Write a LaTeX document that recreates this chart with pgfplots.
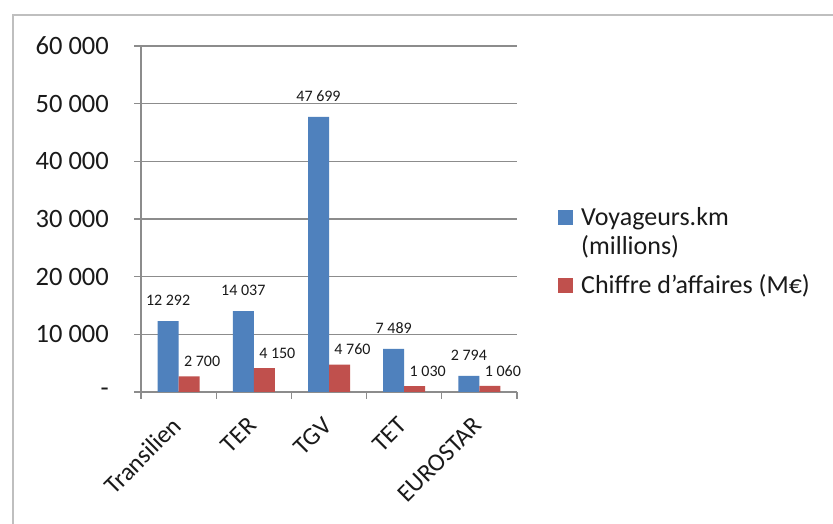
\documentclass[border=0pt]{standalone}
\usepackage{fontspec}
\setmainfont{Carlito}
\usepackage{pgfplots}
\pgfplotsset{compat=1.18}
\definecolor{vblue}{HTML}{4F81BD}
\definecolor{cred}{HTML}{C0504D}
\definecolor{gridc}{HTML}{8C8C8C}
\definecolor{framec}{HTML}{BFBFBF}
\definecolor{txt}{HTML}{1A1A1A}
\begin{document}
\begin{tikzpicture}
\useasboundingbox (0,0) rectangle (833pt,524pt);
\fill[white] (0,0) rectangle (833pt,524pt);
\draw[framec, line width=2.5pt] (13pt,-5pt) -- (13pt,509pt) -- (840pt,509pt);
\begin{axis}[
  at={(141pt,132pt)}, anchor=south west,
  scale only axis, width=376pt, height=346pt,
  xmin=-0.5, xmax=4.5, ymin=0, ymax=60000,
  ybar, bar width=21pt,
  axis lines*=left,
  axis line style={gridc, line width=1.2pt},
  ymajorgrids, grid style={gridc, line width=1.2pt},
  scaled y ticks=false,
  ytick={0,10000,20000,30000,40000,50000,60000},
  yticklabels={-,10 000,20 000,30 000,40 000,50 000,60 000},
  yticklabel style={font=\fontsize{26.5}{30}\selectfont, text=txt, inner sep=0pt, anchor=east, xshift=-25pt},
  xtick={-0.5,0.5,1.5,2.5,3.5,4.5},
  xticklabels={,,,,,},
  extra x ticks={0,1,2,3,4},
  extra x tick labels={Transilien,TER,TGV,TET,EUROSTAR},
  extra x tick style={major tick length=0pt, grid=none,
     xticklabel style={font=\fontsize{25}{28}\selectfont, text=txt, inner sep=0pt, yshift=-29.5pt, xshift=-1.5pt, rotate=45, anchor=east}},
  tick align=outside,
  major tick length=7pt,
  tick style={gridc, line width=1.2pt},
  legend style={at={(1,1)}, anchor=north west, xshift=41pt, yshift=-157pt,
     draw=none, fill=none, inner sep=0pt, row sep=13pt,
     font=\fontsize{26}{29}\selectfont, text=txt,
     cells={anchor=north west, align=left, inner sep=0pt},
     /tikz/every odd column/.append style={column sep=6pt}},
  legend image code/.code={\fill[#1] (0pt,-22pt) rectangle (15pt,-7pt);},
]
\addplot[fill=vblue, draw=none, bar shift=-10.5pt,
  nodes near coords, point meta=explicit symbolic,
  every node near coord/.append style={font=\fontsize{16}{18}\selectfont, text=txt, anchor=center, yshift=21pt}]
  coordinates {(0,12292)[12 292] (1,14037)[14 037] (2,47699)[47 699] (3,7489)[7 489] (4,2794)[2 794]};
\addlegendentry{\rule{0pt}{20pt}Voyageurs.km\\(millions)}
\addplot[fill=cred, draw=none, bar shift=10.5pt,
  nodes near coords, point meta=explicit symbolic,
  every node near coord/.append style={font=\fontsize{16}{18}\selectfont, text=txt, anchor=center, xshift=13pt, yshift=15pt}]
  coordinates {(0,2700)[2 700] (1,4150)[4 150] (2,4760)[4 760] (3,1030)[1 030] (4,1060)[1 060]};
\addlegendentry{\rule{0pt}{20pt}Chiffre d'affaires (M€)}
\end{axis}
\end{tikzpicture}
\end{document}
